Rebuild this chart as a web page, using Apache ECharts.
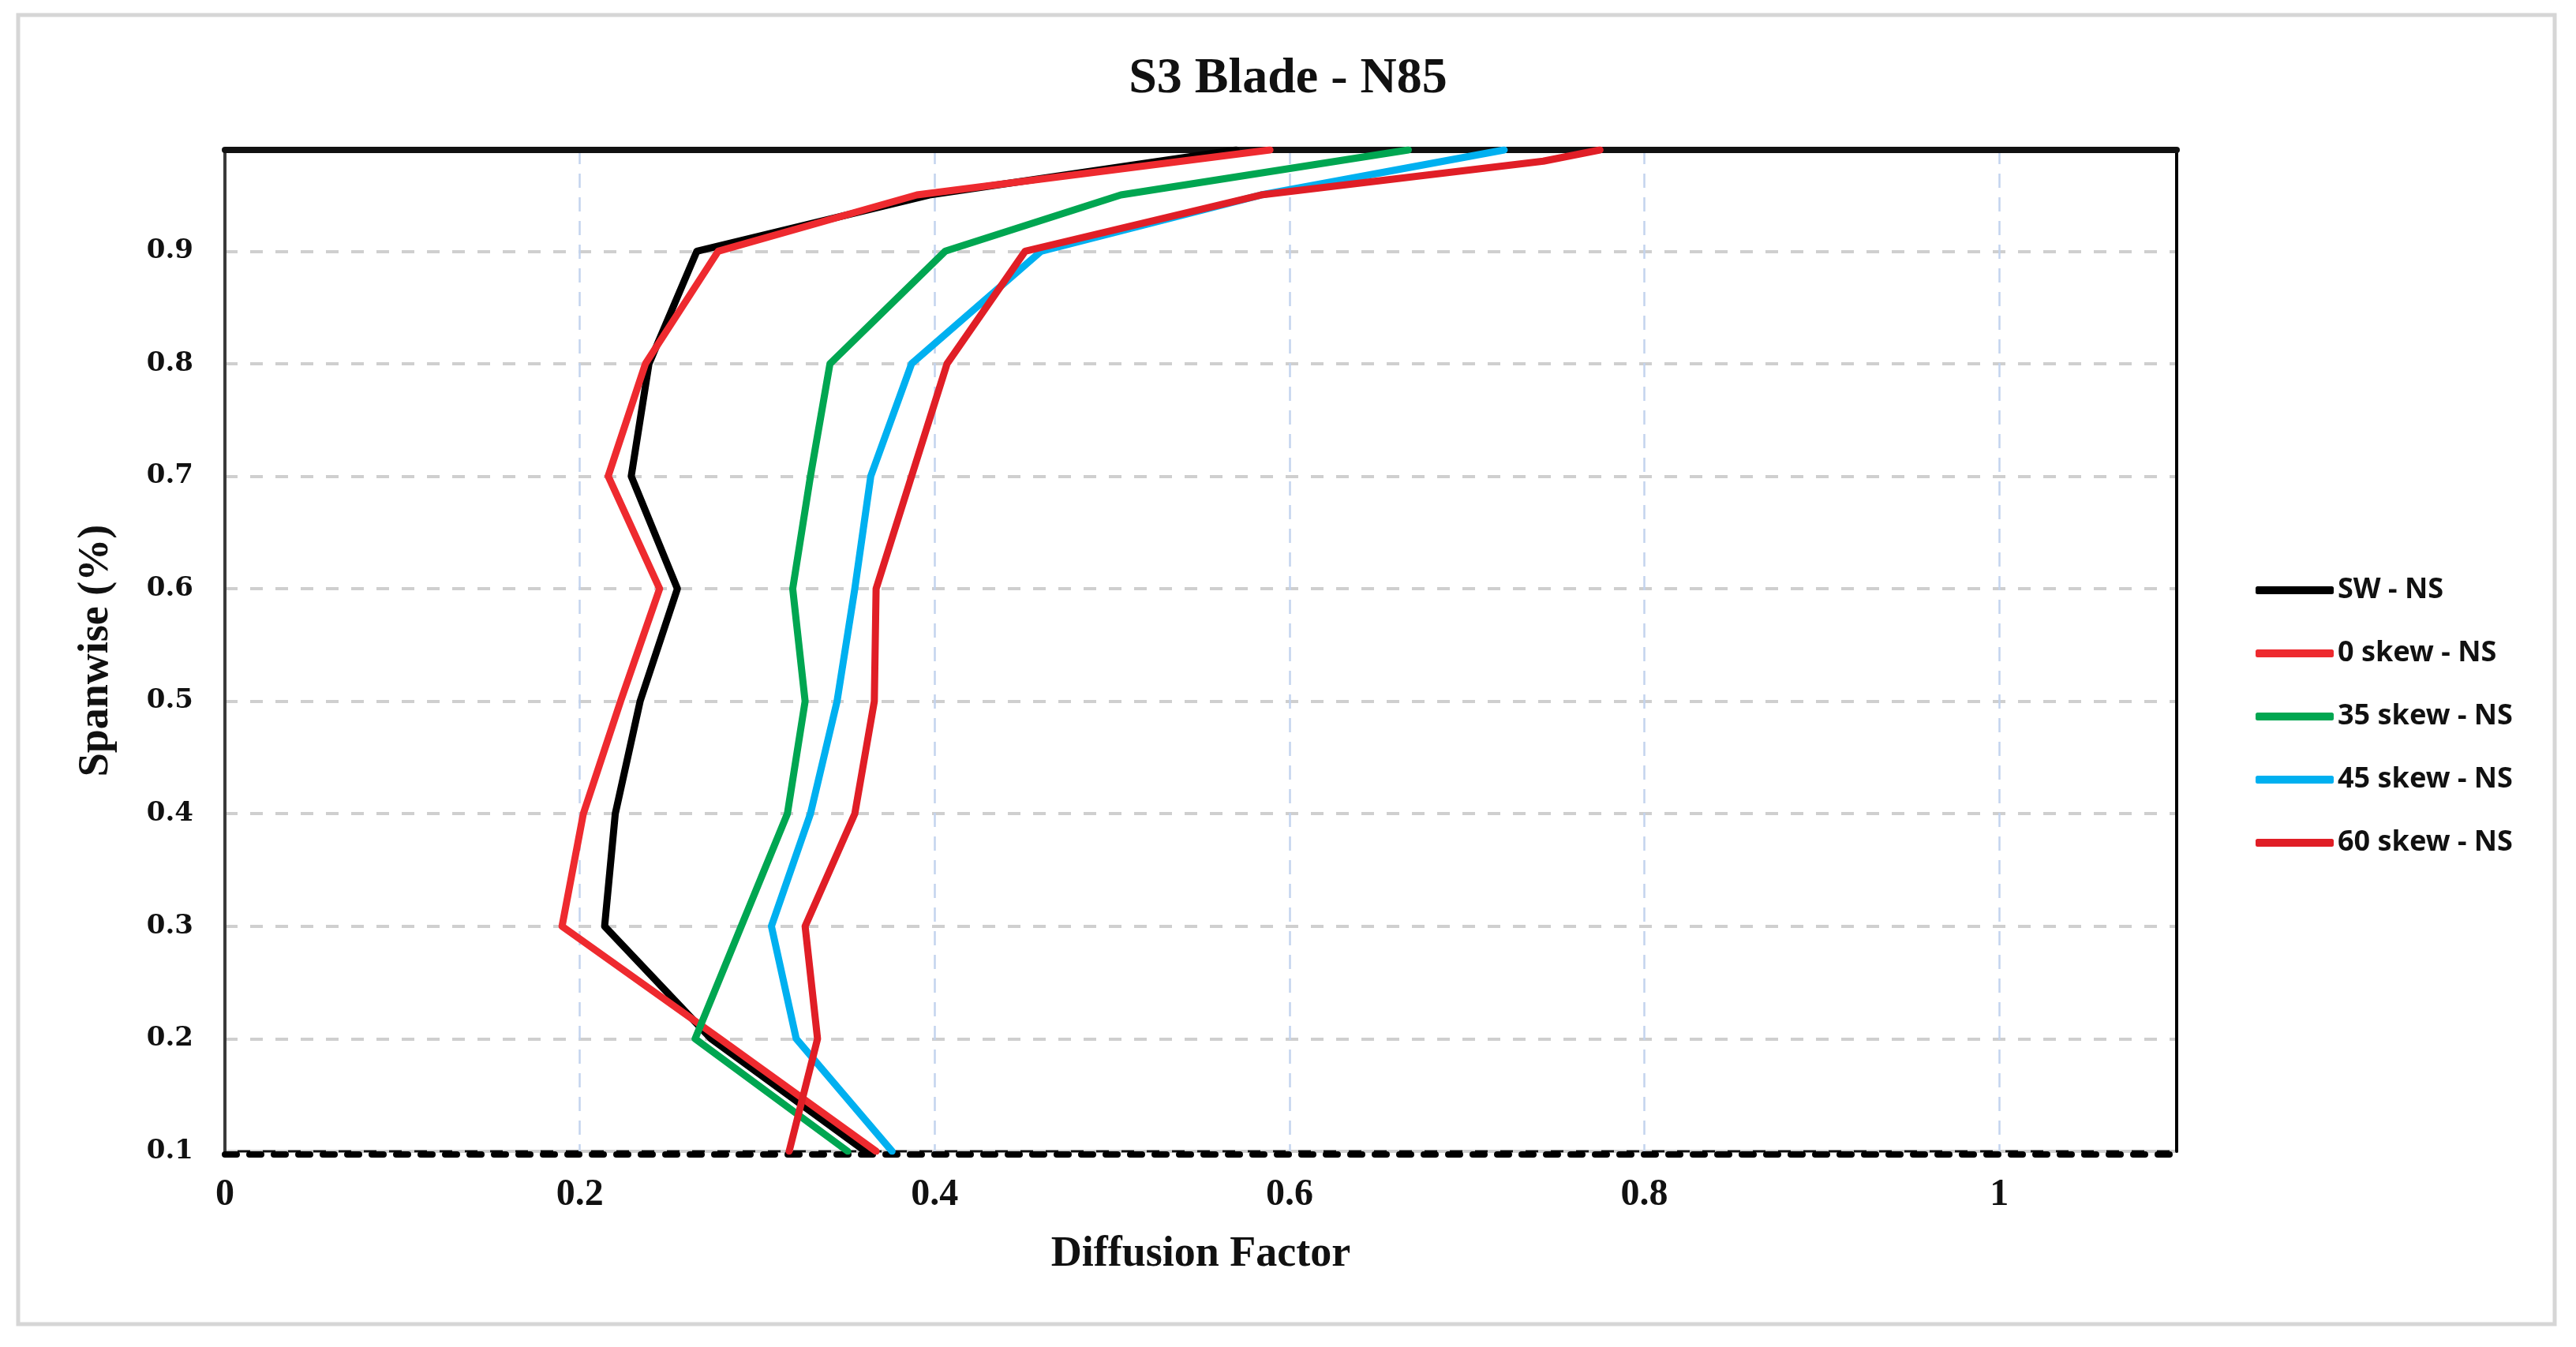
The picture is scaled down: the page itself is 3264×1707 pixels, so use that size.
<!DOCTYPE html>
<html>
<head>
    <meta charset="utf-8" />
    <title>S3 Blade - N85</title>
    <script src="https://cdn.jsdelivr.net/npm/echarts@6/dist/echarts.min.js"></script>
    <style>
        html, body { margin: 0; padding: 0; background: #fff; }
        #chart { width: 3264px; height: 1707px; }
    </style>
</head>
<body>
    <div id="chart"></div>
    <script type="text/javascript">

        // spanwise stations (y) shared by most curves
        var span = [0.1, 0.2, 0.3, 0.4, 0.5, 0.6, 0.7, 0.8, 0.9, 0.95, 0.99];
        // the 60 skew curve has one extra point near the tip
        var span60 = [0.1, 0.2, 0.3, 0.4, 0.5, 0.6, 0.7, 0.8, 0.9, 0.95, 0.98, 0.99];

        // diffusion factor (x)
        var swNS     = [0.361, 0.274, 0.214, 0.220, 0.234, 0.255, 0.229, 0.239, 0.266, 0.397, 0.570];
        var skew0NS  = [0.367, 0.279, 0.190, 0.202, 0.223, 0.245, 0.216, 0.237, 0.278, 0.390, 0.589];
        var skew35NS = [0.351, 0.265, 0.291, 0.317, 0.327, 0.320, 0.330, 0.341, 0.406, 0.505, 0.667];
        var skew45NS = [0.376, 0.322, 0.308, 0.330, 0.345, 0.355, 0.364, 0.387, 0.460, 0.584, 0.721];
        var skew60NS = [0.318, 0.334, 0.327, 0.355, 0.366, 0.367, 0.387, 0.407, 0.451, 0.584, 0.743, 0.775];

        var seriesNames = ['SW - NS', '0 skew - NS', '35 skew - NS', '45 skew - NS', '60 skew - NS'];
        var seriesColors = ['#000000', '#ee2a2f', '#00a651', '#00b0f0', '#e01e26'];
        var xTicks = ['0', '0.2', '0.4', '0.6', '0.8', '1'];

        function pairs(xs, ys) {
            return xs.map(function (x, i) { return [x, ys[i]]; });
        }

        var curves = [
            pairs(swNS, span),
            pairs(skew0NS, span),
            pairs(skew35NS, span),
            pairs(skew45NS, span),
            pairs(skew60NS, span60)
        ];

        var chart = echarts.init(document.getElementById('chart'));

        var serif = 'Liberation Serif';

        var option = {
            animation: false,
            backgroundColor: '#ffffff',
            color: seriesColors,
            title: {
                text: 'S3 Blade - N85',
                left: 'center',
                top: 68,
                padding: 0,
                textStyle: {
                    fontFamily: serif,
                    fontWeight: 'bold',
                    fontSize: 64,
                    color: '#111'
                }
            },
            legend: {
                orient: 'vertical',
                left: 2858,
                top: 728,
                padding: 0,
                icon: 'roundRect',
                itemWidth: 99,
                itemHeight: 10,
                itemGap: 40,
                data: seriesNames,
                textStyle: {
                    fontFamily: 'Noto Sans',
                    fontWeight: 'bold',
                    fontSize: 36,
                    lineHeight: 40,
                    color: '#111'
                }
            },
            graphic: [{
                type: 'rect',
                shape: { x: 23, y: 19, width: 3214, height: 1659 },
                style: { fill: 'none', stroke: '#d6d6d6', lineWidth: 5 },
                silent: true
            }],
            grid: {
                left: 285,
                right: 506,
                top: 190,
                bottom: 248,
                show: true,
                borderColor: '#111',
                borderWidth: 3,
                backgroundColor: '#ffffff'
            },
            xAxis: [{
                type: 'value',
                min: 0,
                max: 1.1,
                interval: 0.2,
                name: 'Diffusion Factor',
                nameLocation: 'middle',
                nameGap: 100,
                nameTextStyle: {
                    fontFamily: serif,
                    fontWeight: 'bold',
                    fontSize: 54,
                    color: '#111'
                },
                offset: 4,
                axisLine: {
                    show: true,
                    onZero: false,
                    lineStyle: { color: '#000', width: 8, type: [15, 16] }
                },
                axisTick: { show: false },
                axisLabel: {
                    margin: 28,
                    fontFamily: serif,
                    fontWeight: 'bold',
                    fontSize: 48,
                    color: '#111',
                    formatter: function (v) {
                        var i = Math.round(v / 0.2);
                        return (v > 1.05) ? '' : xTicks[i];
                    }
                },
                splitLine: {
                    show: true,
                    lineStyle: { color: '#c3d4ee', width: 2.5, type: [18, 12] }
                }
            }, {
                // heavy top border of the plot
                type: 'value',
                position: 'top',
                min: 0,
                max: 1.1,
                axisLine: { show: true, onZero: false, lineStyle: { color: '#111', width: 8 } },
                axisTick: { show: false },
                axisLabel: { show: false },
                splitLine: { show: false }
            }],
            yAxis: [{
                type: 'value',
                min: 0.1,
                max: 0.99,
                interval: 0.1,
                name: 'Spanwise (%)',
                nameLocation: 'middle',
                nameGap: 136,
                nameRotate: 90,
                nameTextStyle: {
                    fontFamily: serif,
                    fontWeight: 'bold',
                    fontSize: 54,
                    color: '#111'
                },
                axisLine: {
                    show: true,
                    onZero: false,
                    lineStyle: { color: '#3a3a3a', width: 4 }
                },
                axisTick: { show: false },
                axisLabel: {
                    margin: 40,
                    fontFamily: 'DejaVu Serif',
                    fontWeight: 'bold',
                    fontSize: 34,
                    color: '#111',
                    formatter: function (v) {
                        return (v > 0.95) ? '' : v.toFixed(1);
                    }
                },
                splitLine: {
                    show: true,
                    lineStyle: { color: '#cfcfcf', width: 4, type: [16, 16] }
                }
            }, {
                // solid right border of the plot
                type: 'value',
                position: 'right',
                min: 0.1,
                max: 0.99,
                axisLine: { show: true, onZero: false, lineStyle: { color: '#000', width: 4 } },
                axisTick: { show: false },
                axisLabel: { show: false },
                splitLine: { show: false }
            }],
            series: curves.map(function (d, i) {
                return {
                    name: seriesNames[i],
                    type: 'line',
                    data: d,
                    showSymbol: false,
                    symbol: 'none',
                    lineStyle: {
                        width: 9,
                        color: seriesColors[i],
                        cap: 'round',
                        join: 'round'
                    }
                };
            })
        };

        chart.setOption(option);
    </script>
</body>
</html>
